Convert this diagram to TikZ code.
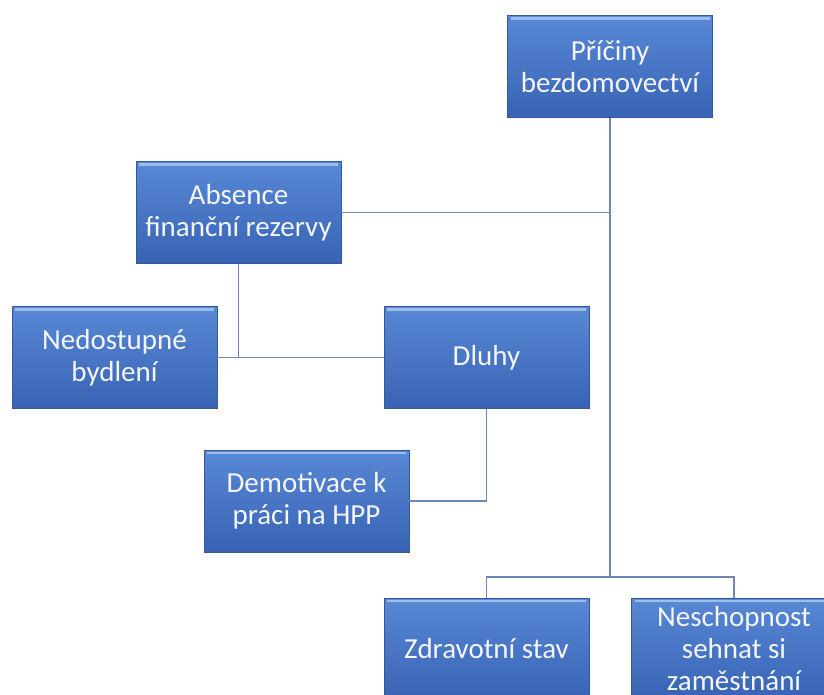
\documentclass[tikz,border=0pt]{standalone}
\usepackage{fontspec}
\setmainfont{Carlito}
\usetikzlibrary{calc}
\definecolor{boxtop}{HTML}{5888D6}
\definecolor{boxbot}{HTML}{3863B4}
\definecolor{boxedge}{HTML}{33579A}
\definecolor{boxlight}{HTML}{9DBDEB}
\definecolor{linkc}{HTML}{6E86B8}
\definecolor{txt}{HTML}{F4F6FA}
\tikzset{
  box/.style={minimum width=205pt, minimum height=102pt, inner sep=0pt,
    top color=boxtop, bottom color=boxbot, draw=boxedge, line width=0.8pt,
    text=txt, align=center, font=\fontsize{29}{32}\selectfont,
    path picture={
      \draw[boxlight, line width=2.5pt]
        ([xshift=3pt,yshift=-3pt]path picture bounding box.north west) --
        ([xshift=-3pt,yshift=-3pt]path picture bounding box.north east);
    }},
  link/.style={draw=linkc, line width=1.6pt}
}
\begin{document}
\begin{tikzpicture}[x=1pt,y=-1pt]
\useasboundingbox (0,0) rectangle (824,695);
\clip (0,0) rectangle (824,695);
\fill[white] (0,0) rectangle (824,695);
\coordinate (j) at (610,577);
\node[box] (p)  at (610,66.5)  {Příčiny\\bezdomovectví};
\node[box] (ab) at (238.5,212.5) {Absence\\finanční rezervy};
\node[box] (nd) at (114.5,357.5) {Nedostupné\\bydlení};
\node[box] (dl) at (486.5,357.5) {Dluhy};
\node[box] (de) at (306.5,501) {Demotivace k\\práci na HPP};
\node[box] (zd) at (486.5,649) {Zdravotní stav};
\node[box] (ne) at (734,649) {Neschopnost\\sehnat si\\zaměstnání};
\draw[link] (p.south) -- (j);
\draw[link] (zd.north) |- (j) -| (ne.north);
\draw[link] (ab.east) -- (ab.east -| p.south);
\draw[link] (ab.south) -- (ab.south |- nd.east);
\draw[link] (nd.east) -- (dl.west);
\draw[link] (dl.south) |- (de.east);
\end{tikzpicture}
\end{document}
